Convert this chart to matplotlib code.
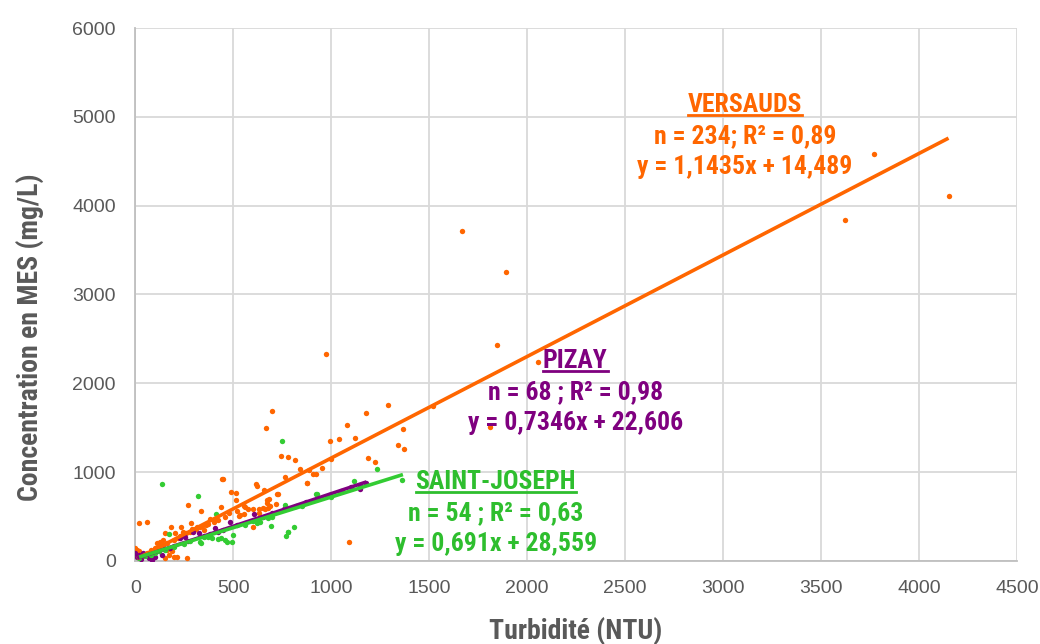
import matplotlib
matplotlib.use('Agg')
import matplotlib.pyplot as plt
from matplotlib.lines import Line2D

# --- data (Turbidité NTU, MES mg/L) ---
versauds_x = [4150, 3770, 3620, 1670, 1890, 1845, 975, 2057, 1520, 1810, 1367, 1370, 1342,
              996, 1041, 1082, 1119, 1180, 1289, 699, 668, 742, 782, 816, 843, 889, 907, 923,
              954, 1000, 762, 447, 442, 1187, 1226, 1092, 879, 616, 620, 488, 512, 655, 728,
              685, 673, 673, 723, 879, 555, 558, 578, 600, 634, 536, 600, 680, 512, 528, 556,
              630, 650, 690, 718, 660, 383, 405, 437, 338, 270, 287, 185, 233, 204, 246, 289,
              315, 340, 349, 150, 128, 111, 144, 162, 187, 213, 264, 196, 170, 153, 17, 60, 0,
              5, 9, 20, 40, 60, 80, 100, 120, 140, 160, 200, 220, 250, 280, 300, 330, 370, 420,
              460, 480, 520, 30, 50, 70, 90, 110, 230, 260, 310, 360, 400]
versauds_y = [4110, 4580, 3840, 3720, 3250, 2430, 2330, 2240, 1740, 1510, 1486, 1261, 1303,
              1351, 1377, 1531, 1389, 1670, 1760, 1689, 1501, 1186, 1175, 1136, 1032, 1025,
              976, 976, 1044, 1145, 942, 920, 920, 1160, 1118, 217, 882, 864, 840, 780, 762,
              796, 751, 695, 687, 656, 754, 882, 619, 605, 582, 582, 582, 518, 386, 593, 687,
              505, 530, 540, 600, 620, 640, 590, 470, 475, 605, 563, 631, 432, 379, 379, 312,
              330, 357, 386, 394, 349, 312, 217, 199, 236, 124, 116, 48, 30, 48, 68, 30, 424,
              443, 150, 87, 124, 110, 60, 90, 120, 140, 160, 180, 200, 240, 260, 300, 330, 350,
              380, 420, 460, 500, 540, 560, 30, 70, 40, 100, 140, 280, 320, 360, 400, 440]

pizay_x = [1148, 604, 485, 408, 323, 297, 0, 17, 42, 68, 85, 102, 136, 230, 255, 150, 180,
           200, 350, 380, 450, 520, 560, 650, 700, 760, 820, 870, 930, 990, 1050, 1100, 1180,
           10, 30, 55, 120, 270, 420, 1145]
pizay_y = [807, 526, 443, 375, 312, 330, 87, 68, 93, 30, 11, 48, 68, 256, 274, 130, 150, 170,
           280, 300, 350, 400, 430, 500, 540, 580, 620, 660, 700, 740, 790, 830, 880, 40, 20,
           60, 110, 220, 330, 860]

stjoseph_x = [139, 321, 410, 175, 331, 337, 374, 391, 420, 459, 468, 493, 498, 621, 694, 770,
              779, 808, 923, 853, 765, 1235, 1362, 1117, 748, 680, 638, 782, 927, 439, 100, 150,
              200, 250, 280, 350, 560, 600, 700, 850, 1000, 20, 50, 80, 120]
stjoseph_y = [864, 735, 529, 304, 217, 200, 274, 256, 244, 236, 210, 217, 293, 424, 398, 281,
              330, 386, 754, 631, 631, 1039, 912, 904, 1355, 481, 436, 330, 754, 262, 90, 120,
              160, 190, 220, 270, 400, 450, 500, 620, 720, 30, 60, 70, 110]

# trend lines: slope, intercept and x range of each
slopes = [1.1435, 0.7346, 0.691]
intercepts = [14.489, 22.606, 28.559]
x_ranges = [(10, 4150), (10, 1180), (20, 1366)]

names = ['VERSAUDS', 'PIZAY', 'SAINT-JOSEPH']
stats = ['n = 234; R² = 0,89', 'n = 68 ; R² = 0,98', 'n = 54 ; R² = 0,63']
equations = ['y = 1,1435x + 14,489', 'y = 0,7346x + 22,606', 'y = 0,691x + 28,559']
colors = ['#FF6600', '#7F007F', '#33CC33']
text_colors = ['#FF6600', '#7F007F', '#2EBE2E']
label_pos = [(3112, 5135), (2245, 2252), (1840, 890)]  # data coords of title line centre

fig = plt.figure(figsize=(10.4, 6.44), dpi=100)
ax = fig.add_axes([0.13, 0.129, 0.848, 0.8275])

series = [(versauds_x, versauds_y), (pizay_x, pizay_y), (stjoseph_x, stjoseph_y)]
for (xs, ys), c in zip(series, colors):
    ax.scatter(xs, ys, s=15, color=c, linewidths=0, zorder=3)

for m, b, (x0, x1), c in zip(slopes, intercepts, x_ranges, colors):
    ax.plot([x0, x1], [m * x0 + b, m * x1 + b], color=c, lw=2.6, zorder=4,
            solid_capstyle='butt')

ax.set_xlim(0, 4500)
ax.set_ylim(0, 6000)
ax.set_xticks(range(0, 4501, 500))
ax.set_yticks(range(0, 6001, 1000))
ax.grid(True, color='#D9D9D9', lw=1.3)
ax.set_axisbelow(True)
for s in ['top', 'right']:
    ax.spines[s].set_visible(False)
for s in ['left', 'bottom']:
    ax.spines[s].set_color('#BFBFBF')
    ax.spines[s].set_linewidth(1.3)
ax.tick_params(length=0, labelsize=14, labelcolor='#595959', pad=14)
for lab in ax.get_xticklabels() + ax.get_yticklabels():
    lab.set_family('Liberation Sans')

ax.set_xlabel('Turbidité (NTU)', family='Roboto Condensed', weight='bold', fontsize=20,
              color='#595959', va='center')
ax.xaxis.set_label_coords(0.499, -0.131)
ax.set_ylabel('Concentration en MES (mg/L)', family='Roboto Condensed', weight='bold',
              fontsize=20, color='#595959', va='center')
ax.yaxis.set_label_coords(-0.119, 0.42)

fig.canvas.draw()
renderer = fig.canvas.get_renderer()
line_gap = 31  # px between annotation lines
for name, st, eq, tc, (lx, ly) in zip(names, stats, equations, text_colors, label_pos):
    px, py = ax.transData.transform((lx, ly))
    t = fig.text(px / fig.bbox.width, py / fig.bbox.height, name, ha='center', va='center',
                 family='Roboto Condensed', weight='bold', fontsize=18.5, color=tc)
    for k, s in enumerate([st, eq]):
        fig.text(px / fig.bbox.width, (py - line_gap * (k + 1)) / fig.bbox.height, s,
                 ha='center', va='center', family='Roboto Condensed', weight='bold',
                 fontsize=18.5, color=tc)
    bb = t.get_window_extent(renderer)
    uy = (bb.y0 + 1.5) / fig.bbox.height
    fig.add_artist(Line2D([bb.x0 / fig.bbox.width, bb.x1 / fig.bbox.width], [uy, uy],
                          color=tc, lw=2))

fig.savefig('out.png')
